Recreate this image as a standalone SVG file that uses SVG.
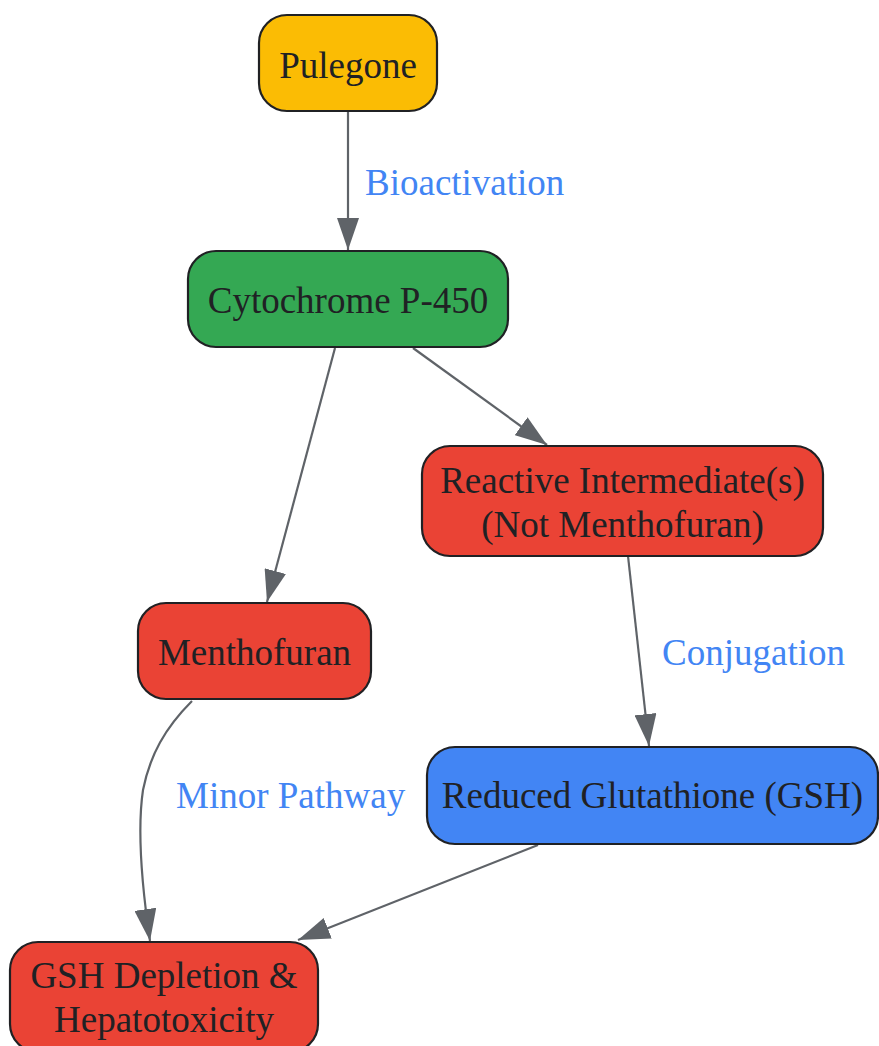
<svg xmlns="http://www.w3.org/2000/svg" width="879" height="1046" viewBox="0 0 879 1046">
<style>
.n{stroke:#202124;stroke-width:2.2}
.t{font-family:"Liberation Serif","Times New Roman",serif;font-size:37px;fill:#202124;text-anchor:middle}
.l{font-family:"Liberation Serif","Times New Roman",serif;font-size:37px;fill:#4285F4}
.e{fill:none;stroke:#5f6368;stroke-width:2.2}
</style>
<defs>
<marker id="a" viewBox="0 0 32 22" markerWidth="32" markerHeight="22" markerUnits="userSpaceOnUse" refX="32" refY="11" orient="auto">
<path d="M0,0 L32,11 L0,22 z" fill="#5f6368"/>
</marker>
</defs>
<rect width="879" height="1046" fill="#ffffff"/>
<g id="connectors">
<path class="e" d="M348,111 L348,250" marker-end="url(#a)"/>
<path class="e" d="M335,348 L267,602" marker-end="url(#a)"/>
<path class="e" d="M413,348 L547,445" marker-end="url(#a)"/>
<path class="e" d="M628,556 L649,746" marker-end="url(#a)"/>
<path class="e" d="M192,701 C165,728 150,755 143,790 C137,830 141,880 150,941" marker-end="url(#a)"/>
<path class="e" d="M538,845 L298,940" marker-end="url(#a)"/>
<text class="l" x="365" y="195">Bioactivation</text>
<text class="l" x="662" y="665">Conjugation</text>
<text class="l" x="176" y="808">Minor Pathway</text>
</g>
<g id="pulegone">
<rect class="n" x="259" y="15" width="178" height="96" rx="28" fill="#FBBC04"/>
<text class="t" x="348" y="78">Pulegone</text>
</g>
<g id="cytochrome">
<rect class="n" x="188" y="251" width="320" height="96" rx="28" fill="#34A853"/>
<text class="t" x="348" y="313">Cytochrome P-450</text>
</g>
<g id="reactive">
<rect class="n" x="422" y="446" width="401" height="110" rx="28" fill="#EA4335"/>
<text class="t" x="622.5" y="493">Reactive Intermediate(s)</text>
<text class="t" x="622.5" y="537">(Not Menthofuran)</text>
</g>
<g id="menthofuran">
<rect class="n" x="138" y="603" width="233" height="96" rx="28" fill="#EA4335"/>
<text class="t" x="254.5" y="665">Menthofuran</text>
</g>
<g id="gsh">
<rect class="n" x="427" y="747" width="451" height="97" rx="28" fill="#4285F4"/>
<text class="t" x="652.5" y="808">Reduced Glutathione (GSH)</text>
</g>
<g id="depletion">
<rect class="n" x="10" y="942" width="308" height="110" rx="28" fill="#EA4335"/>
<text class="t" x="164" y="988">GSH Depletion &amp;</text>
<text class="t" x="164" y="1032">Hepatotoxicity</text>
</g>
</svg>
